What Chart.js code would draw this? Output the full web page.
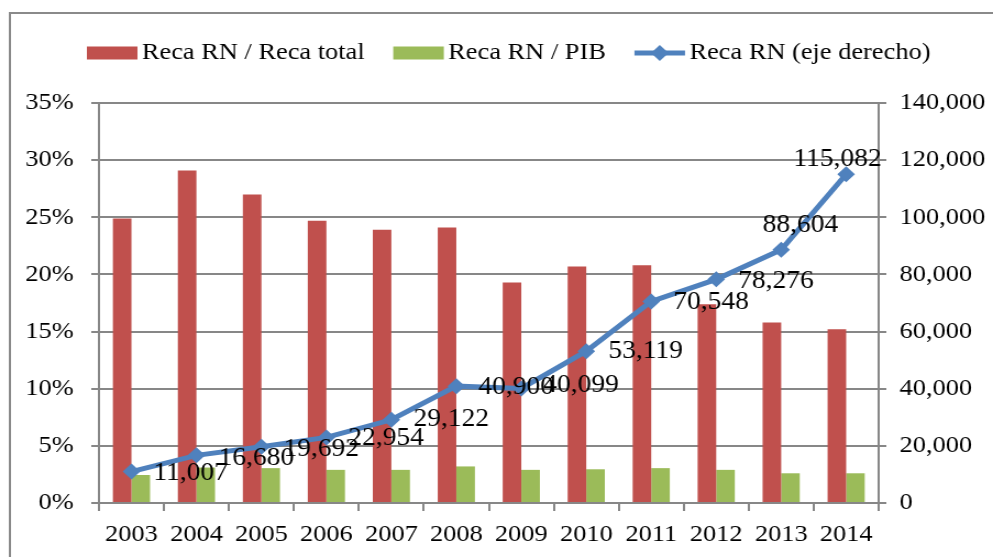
<!DOCTYPE html>
<html>
<head>
<meta charset="utf-8">
<script src="https://cdn.jsdelivr.net/npm/chart.js@4.4.1/dist/chart.umd.min.js"></script>
<style>
  body { margin: 0; background: #fff; }
  #wrap { width: 993px; height: 557px; }
</style>
</head>
<body>
<div id="wrap">
  <canvas id="recaChart" width="903" height="557" style="width:993px;height:557px"></canvas>
</div>
<script>
// data
const years = ["2003", "2004", "2005", "2006", "2007", "2008", "2009", "2010", "2011", "2012", "2013", "2014"];
const recaRnTotal = [24.9, 29.1, 27.0, 24.7, 23.9, 24.1, 19.3, 20.7, 20.8, 17.4, 15.8, 15.2]; // %
const recaRnPib = [2.45, 3.1, 3.05, 2.9, 2.9, 3.2, 2.9, 2.95, 3.05, 2.9, 2.6, 2.6];        // %
const recaRn = [11007, 16680, 19692, 22954, 29122, 40900, 40099, 53119, 70548, 78276, 88604, 115082];

const seriesNames = ["Reca RN / Reca total", "Reca RN / PIB", "Reca RN (eje derecho)"];

const RED = "#C0504D";
const GREEN = "#9BBB59";
const BLUE = "#4F81BD";
const GRID = "#878787";
const FONT = '"Liberation Serif", "Times New Roman", serif';

// geser label angka (dx, dy) relatif ke titik
const labelOffset = [
  [20, 2], [20, 3], [20, 3], [20, 1], [20, 0], [20, 1],
  [20, -3], [20, 0], [20, 1], [20, 2], [-17, -24], [-48, -15]
];

const fmt = (v) => v.toLocaleString("en-US");

const frame = {
  id: "frame",
  beforeDraw(chart) {
    const c = chart.ctx;
    c.save();
    c.strokeStyle = "#8a8a8a";
    c.lineWidth = 2;
    c.strokeRect(9, 13, 1000, 1000);
    c.restore();
  }
};

const legendManual = {
  id: "legendManual",
  afterDraw(chart) {
    const c = chart.ctx;
    c.save();
    c.font = "24px " + FONT;
    c.textBaseline = "middle";
    c.textAlign = "left";
    let x = 79;
    const y = 53;
    seriesNames.forEach((name, i) => {
      if (i < 2) {
        c.fillStyle = i === 0 ? RED : GREEN;
        c.fillRect(x, y - 6.5, 46, 13);
      } else {
        c.strokeStyle = BLUE;
        c.lineWidth = 5;
        c.beginPath();
        c.moveTo(x, y);
        c.lineTo(x + 46, y);
        c.stroke();
        c.fillStyle = BLUE;
        c.beginPath();
        c.moveTo(x + 23, y - 8);
        c.lineTo(x + 31, y);
        c.lineTo(x + 23, y + 8);
        c.lineTo(x + 15, y);
        c.closePath();
        c.fill();
      }
      x += 50;
      c.fillStyle = "#000";
      c.fillText(name, x, y);
      x += c.measureText(name).width + 26;
    });
    c.restore();
  }
};

const pointLabels = {
  id: "pointLabels",
  afterDatasetsDraw(chart) {
    const meta = chart.getDatasetMeta(2);
    const c = chart.ctx;
    c.save();
    c.font = "25px " + FONT;
    c.fillStyle = "#000";
    c.textAlign = "left";
    c.textBaseline = "middle";
    meta.data.forEach((pt, i) => {
      const off = labelOffset[i];
      c.fillText(fmt(recaRn[i]), pt.x + off[0], pt.y + off[1]);
    });
    c.restore();
  }
};

const ctx = document.getElementById("recaChart").getContext("2d");

const recaChart = new Chart(ctx, {
  type: "bar",
  data: {
    labels: years,
    datasets: [
      {
        label: seriesNames[0],
        data: recaRnTotal,
        backgroundColor: RED,
        yAxisID: "y",
        order: 1,
        barPercentage: 1,
        categoryPercentage: 0.572
      },
      {
        label: seriesNames[1],
        data: recaRnPib,
        backgroundColor: GREEN,
        yAxisID: "y",
        order: 1,
        barPercentage: 1,
        categoryPercentage: 0.572
      },
      {
        type: "line",
        label: seriesNames[2],
        data: recaRn,
        yAxisID: "y1",
        order: 0,
        borderColor: BLUE,
        backgroundColor: BLUE,
        borderWidth: 5,
        tension: 0,
        pointStyle: "rectRot",
        pointRadius: 8,
        pointBorderWidth: 0,
        pointBackgroundColor: BLUE
      }
    ]
  },
  options: {
    responsive: false,
    animation: false,
    devicePixelRatio: 1,
    layout: { padding: { top: 103, left: 0, right: 0, bottom: 0 } },
    plugins: {
      legend: { display: false },
      tooltip: { enabled: false }
    },
    scales: {
      x: {
        grid: {
          offset: true,
          drawOnChartArea: false,
          drawTicks: true,
          tickLength: 8,
          color: GRID,
          lineWidth: 2
        },
        border: { display: true, color: GRID, width: 2 },
        ticks: { color: "#000", font: { family: FONT, size: 24 }, padding: 9, maxRotation: 0 },
        afterFit(scale) { scale.height = 54; }
      },
      y: {
        position: "left",
        min: 0,
        max: 35,
        ticks: {
          stepSize: 5,
          color: "#000",
          font: { family: FONT, size: 24 },
          padding: 16,
          callback: (v) => v + "%"
        },
        grid: { color: GRID, lineWidth: 2, tickLength: 7, drawTicks: true },
        border: { display: true, color: GRID, width: 2 },
        afterFit(scale) { scale.width = 90; }
      },
      y1: {
        position: "right",
        min: 0,
        max: 140000,
        ticks: {
          stepSize: 20000,
          color: "#000",
          font: { family: FONT, size: 24 },
          padding: 12,
          callback: (v) => fmt(v)
        },
        grid: { drawOnChartArea: false, color: GRID, lineWidth: 2, tickLength: 7, drawTicks: true },
        border: { display: true, color: GRID, width: 2 },
        afterFit(scale) { scale.width = 104; }
      }
    }
  },
  plugins: [frame, legendManual, pointLabels]
});
</script>
</body>
</html>
